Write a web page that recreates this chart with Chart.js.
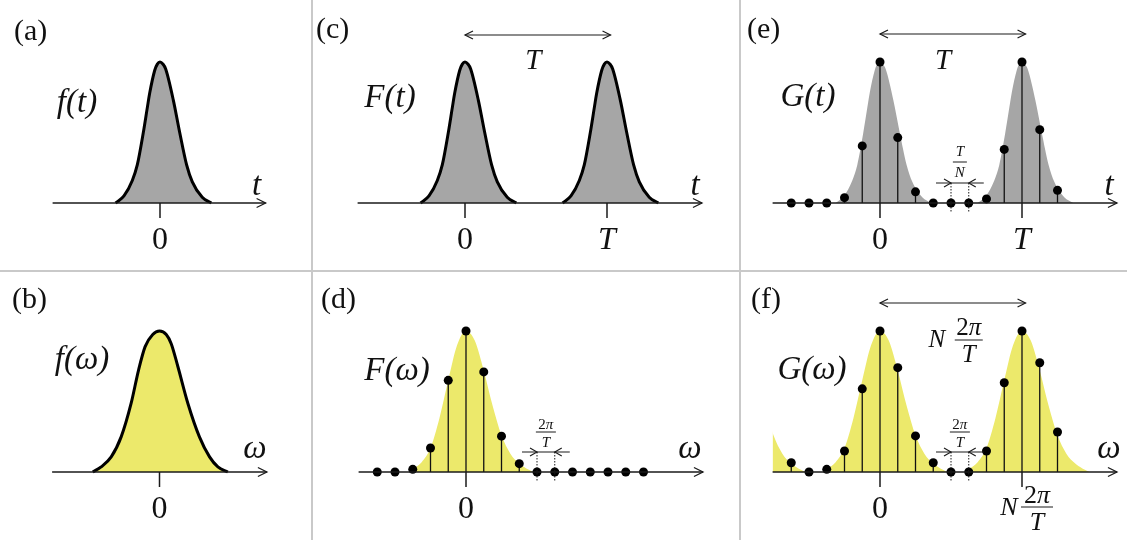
<!DOCTYPE html>
<html>
<head>
<meta charset="utf-8">
<script src="https://cdn.jsdelivr.net/npm/chart.js"></script>
<style>
  body { margin: 0; background: #fff; }
  #wrap { position: relative; width: 1127px; height: 540px; overflow: hidden; }
  #wrap canvas { position: absolute; }
  .sep { position: absolute; background: #c9c9c9; }
</style>
</head>
<body>
<div id="wrap">
  <canvas id="pa"></canvas>
  <canvas id="pb"></canvas>
  <canvas id="pc"></canvas>
  <canvas id="pd"></canvas>
  <canvas id="pe"></canvas>
  <canvas id="pf"></canvas>
  <div class="sep" style="left:0;top:270px;width:1127px;height:2px"></div>
  <div class="sep" style="left:311px;top:0;width:2px;height:540px"></div>
  <div class="sep" style="left:739px;top:0;width:2px;height:540px"></div>
</div>
<script>
// ---- values (x in units of one sample step T/N, y relative to peak) ----
// pulse shape f(t) (also used for F(t), G(t))
const pulseX = [-2.50, -2.03, -1.56, -1.28, -0.94, -0.71, -0.58, -0.30, -0.15, 0, 0.16, 0.32, 0.75, 1.11, 1.50, 1.82, 2.38, 2.89];
const pulseY = [0, 0.05, 0.16, 0.27, 0.50, 0.68, 0.78, 0.94, 0.985, 1, 0.986, 0.95, 0.73, 0.50, 0.27, 0.15, 0.04, 0];
// spectrum f(ω)
const specX = [-3.76, -3.29, -2.72, -2.16, -1.60, -1.18, -0.81, -0.38, 0, 0.38, 0.66, 1.03, 1.60, 2.25, 2.82, 3.29, 3.85];
const specY = [0, 0.036, 0.107, 0.249, 0.486, 0.723, 0.889, 0.975, 1, 0.975, 0.91, 0.75, 0.486, 0.249, 0.107, 0.036, 0];
// yellow envelope behind the sampled spectra F(ω), G(ω)
const envX = [-3.2, -3.0, -2.5, -2.0, -1.5, -1.0, -0.5, 0, 0.5, 1.0, 1.5, 2.0, 2.5, 3.0, 3.4, 3.8];
const envY = [0, 0.02, 0.07, 0.17, 0.38, 0.65, 0.9, 1, 0.93, 0.72, 0.47, 0.26, 0.13, 0.06, 0.025, 0];

// sample index n (-5 .. 10) and stem heights
const sampleN = [-5, -4, -3, -2, -1, 0, 1, 2, 3, 4, 5, 6, 7, 8, 9, 10];
const stemsD = [0, 0, 0.019, 0.17, 0.65, 1, 0.71, 0.254, 0.059, 0, 0, 0, 0, 0, 0, 0];
const stemsE = [0, 0, 0, 0.038, 0.405, 1, 0.464, 0.079, 0, 0, 0, 0.029, 0.38, 1, 0.52, 0.09];
const stemsF = [0.066, 0, 0.019, 0.149, 0.59, 1, 0.74, 0.256, 0.066, 0, 0, 0.149, 0.633, 1, 0.775, 0.284];

const periodT = 8;              // T = N steps
const copiesC = [0, 8];         // pulse centres in (c), (e)
const copiesF = [-8, 0, 8];     // envelope centres in (f)
const spanArrow = [0, 8.2];     // the double arrow over two periods
const gapPair = [4, 5];         // the T/N (2π/T) spacing marker

const GRAY = "#a6a6a6";
const YELLOW = "#ece96b";
const SERIF = '"Liberation Serif", "Times New Roman", serif';
const STEP = 17.75;  // px per sample step
const PEAK = 141;    // px from axis to peak

const pts = (xs, ys, shift) => xs.map((x, i) => ({ x: x + (shift || 0), y: ys[i] }));

function curve(xs, ys, shift, color, outline) {
    return {
        type: "line",
        data: pts(xs, ys, shift),
        order: 3,
        fill: "origin",
        backgroundColor: color,
        borderColor: outline ? "#000" : "rgba(0,0,0,0)",
        borderWidth: outline ? 3 : 0,
        pointRadius: 0,
        cubicInterpolationMode: "monotone",
        clip: { left: 0, right: 0, top: false, bottom: false }
    };
}
function stems(vals) {
    return {
        type: "bar",
        data: pts(sampleN, vals),
        order: 2,
        backgroundColor: "#111",
        borderWidth: 0,
        barThickness: 1.3,
        inflateAmount: 0,
        clip: false
    };
}
function dots(vals) {
    return {
        type: "scatter",
        data: pts(sampleN, vals),
        order: 1,
        showLine: false,
        pointRadius: 4.5,
        pointBackgroundColor: "#000",
        pointBorderWidth: 0,
        clip: false
    };
}

// --- drawing helpers for the annotations ---
function chevron(ctx, x, y, dir, len, half) {
    ctx.beginPath();
    ctx.moveTo(x - dir * len, y - half);
    ctx.lineTo(x, y);
    ctx.lineTo(x - dir * len, y + half);
    ctx.stroke();
}
function runs(ctx, parts, cx, base, size) {
    // parts: [text, italic]
    const fonts = parts.map(p => (p[1] ? "italic " : "") + size + "px " + SERIF);
    const ws = parts.map((p, i) => { ctx.font = fonts[i]; return ctx.measureText(p[0]).width; });
    let x = cx - ws.reduce((a, b) => a + b, 0) / 2;
    ctx.textAlign = "left";
    ctx.textBaseline = "alphabetic";
    parts.forEach((p, i) => { ctx.font = fonts[i]; ctx.fillText(p[0], x, base); x += ws[i]; });
}
function frac(ctx, num, den, cx, barY, size, halfW, up, down) {
    runs(ctx, num, cx, barY - up, size);
    runs(ctx, den, cx, barY + down, size);
    ctx.lineWidth = 1;
    ctx.beginPath();
    ctx.moveTo(cx - halfW, barY);
    ctx.lineTo(cx + halfW, barY);
    ctx.stroke();
}
const TWO_PI = [["2", false], ["π", true]];

function decor(cfg) {
    return {
        id: "decor",
        afterDatasetsDraw(chart) {
            const ctx = chart.ctx;
            const X = v => chart.scales.x.getPixelForValue(v);
            const Y0 = chart.scales.y.getPixelForValue(0);
            const xEnd = X(cfg.xMax);
            ctx.save();
            ctx.strokeStyle = "#1a1a1a";
            ctx.fillStyle = "#111";

            // axis with arrow
            ctx.lineWidth = 1.3;
            ctx.beginPath();
            ctx.moveTo(X(cfg.xMin), Y0);
            ctx.lineTo(xEnd, Y0);
            ctx.stroke();
            chevron(ctx, xEnd, Y0, 1, 9, 4.5);

            // ticks + labels
            cfg.ticks.forEach(t => {
                ctx.lineWidth = 1.5;
                ctx.beginPath();
                ctx.moveTo(X(t.v), Y0);
                ctx.lineTo(X(t.v), Y0 + 15);
                ctx.stroke();
                if (t.special) {
                    runs(ctx, [["N", true]], X(t.v) - 13, Y0 + 43, 26);
                    frac(ctx, TWO_PI, [["T", true]], X(t.v) + 15, Y0 + 35, 26, 16, 4, 23);
                } else {
                    runs(ctx, [[t.label, t.italic]], X(t.v), Y0 + 46, 32);
                }
            });

            // axis variable
            runs(ctx, [[cfg.axisVar, true]], xEnd - cfg.varDx, Y0 - cfg.varLift, 33);

            // panel letter and function name
            ctx.font = "30px " + SERIF;
            ctx.textAlign = "left";
            ctx.textBaseline = "middle";
            ctx.fillText(cfg.letter[0], cfg.letter[1], cfg.letter[2]);
            ctx.font = "italic 33px " + SERIF;
            ctx.textAlign = "center";
            ctx.fillText(cfg.fname[0], cfg.fname[1], cfg.fname[2]);

            // double arrow over one period
            if (cfg.span) {
                const a = X(spanArrow[0]), b = X(spanArrow[1]), y = cfg.span.y;
                ctx.lineWidth = 1.2;
                ctx.beginPath();
                ctx.moveTo(a, y);
                ctx.lineTo(b, y);
                ctx.stroke();
                chevron(ctx, a, y, -1, 8, 4);
                chevron(ctx, b, y, 1, 8, 4);
                if (cfg.span.label === "T") {
                    runs(ctx, [["T", true]], X(cfg.span.at), 69, 29);
                } else {
                    runs(ctx, [["N", true]], X(cfg.span.at) - 32, 75, 25);
                    frac(ctx, TWO_PI, [["T", true]], X(cfg.span.at), 68, 25, 14, 5, 22);
                }
            }

            // spacing marker between two samples
            if (cfg.gap) {
                const a = X(gapPair[0]), b = X(gapPair[1]), y = Y0 - 20;
                ctx.lineWidth = 1;
                ctx.setLineDash([1.5, 1.5]);
                [a, b].forEach(x => {
                    ctx.beginPath();
                    ctx.moveTo(x, y);
                    ctx.lineTo(x, Y0 + 9);
                    ctx.stroke();
                });
                ctx.setLineDash([]);
                ctx.lineWidth = 1.1;
                ctx.beginPath();
                ctx.moveTo(a - 15, y);
                ctx.lineTo(b + 15, y);
                ctx.stroke();
                chevron(ctx, a, y, 1, 7, 4);
                chevron(ctx, b, y, -1, 7, 4);
                const cx = (a + b) / 2;
                if (cfg.gap === "TN") {
                    frac(ctx, [["T", true]], [["N", true]], cx, y - 21, 15, 7, 6, 15);
                } else {
                    frac(ctx, TWO_PI, [["T", true]], cx, y - 20, 15, 10, 3, 15);
                }
            }
            ctx.restore();
        }
    };
}

function makePanel(id, cell, origin, axisY, xMin, xMax, datasets, cfg) {
    const cv = document.getElementById(id);
    cv.width = cell.w;
    cv.height = cell.h;
    cv.style.left = cell.l + "px";
    cv.style.top = cell.t + "px";
    cfg.xMin = xMin;
    cfg.xMax = xMax;
    new Chart(cv, {
        type: "line",
        data: { datasets },
        options: {
            responsive: false,
            animation: false,
            events: [],
            devicePixelRatio: 1,
            layout: {
                padding: {
                    left: origin + xMin * STEP - cell.l,
                    right: cell.l + cell.w - (origin + xMax * STEP),
                    top: axisY - PEAK - cell.t,
                    bottom: cell.t + cell.h - axisY
                }
            },
            scales: {
                x: { type: "linear", min: xMin, max: xMax, offset: false, display: false },
                y: { type: "linear", min: 0, max: 1, display: false }
            },
            plugins: { legend: { display: false }, tooltip: { enabled: false } }
        },
        plugins: [decor(cfg)]
    });
}

const cell = (l, t, w, h) => ({ l, t, w, h });

// (a) f(t)
makePanel("pa", cell(0, 0, 311, 270), 160, 203, -6.05, 5.95,
    [curve(pulseX, pulseY, 0, GRAY, true)],
    { letter: ["(a)", 14, 32], fname: ["f(t)", 77, 103], axisVar: "t", varDx: 9, varLift: 8,
      ticks: [{ v: 0, label: "0" }] });

// (b) f(ω)
makePanel("pb", cell(0, 272, 311, 268), 159.5, 472, -6.05, 6.05,
    [curve(specX, specY, 0, YELLOW, true)],
    { letter: ["(b)", 12, 28], fname: ["f(ω)", 82, 88], axisVar: "ω", varDx: 12, varLift: 14,
      ticks: [{ v: 0, label: "0" }] });

// (c) F(t)
makePanel("pc", cell(313, 0, 426, 270), 465, 203, -6.05, 13.35,
    copiesC.map(c => curve(pulseX, pulseY, c, GRAY, true)),
    { letter: ["(c)", 3, 30], fname: ["F(t)", 77, 98], axisVar: "t", varDx: 7, varLift: 8,
      ticks: [{ v: 0, label: "0" }, { v: periodT, label: "T", italic: true }],
      span: { y: 35, label: "T", at: 3.85 } });

// (d) F(ω)
makePanel("pd", cell(313, 272, 426, 268), 466, 472, -6.05, 13.35,
    [dots(stemsD), stems(stemsD), curve(envX, envY, 0, YELLOW, false)],
    { letter: ["(d)", 8, 28], fname: ["F(ω)", 84, 99], axisVar: "ω", varDx: 13, varLift: 14,
      ticks: [{ v: 0, label: "0" }], gap: "2piT" });

// (e) G(t)
makePanel("pe", cell(741, 0, 386, 270), 880, 203, -6.05, 13.35,
    [dots(stemsE), stems(stemsE)].concat(copiesC.map(c => curve(pulseX, pulseY, c, GRAY, false))),
    { letter: ["(e)", 6, 30], fname: ["G(t)", 67, 97], axisVar: "t", varDx: 8, varLift: 8,
      ticks: [{ v: 0, label: "0" }, { v: periodT, label: "T", italic: true }],
      span: { y: 34, label: "T", at: 3.55 }, gap: "TN" });

// (f) G(ω)
makePanel("pf", cell(741, 272, 386, 268), 880, 472, -6.05, 13.35,
    [dots(stemsF), stems(stemsF)].concat(copiesF.map(c => curve(envX, envY, c, YELLOW, false))),
    { letter: ["(f)", 10, 28], fname: ["G(ω)", 71, 98], axisVar: "ω", varDx: 8, varLift: 14,
      ticks: [{ v: 0, label: "0" }, { v: periodT, special: true }],
      span: { y: 31, label: "N2piT", at: 5.0 }, gap: "2piT" });
</script>
</body>
</html>
